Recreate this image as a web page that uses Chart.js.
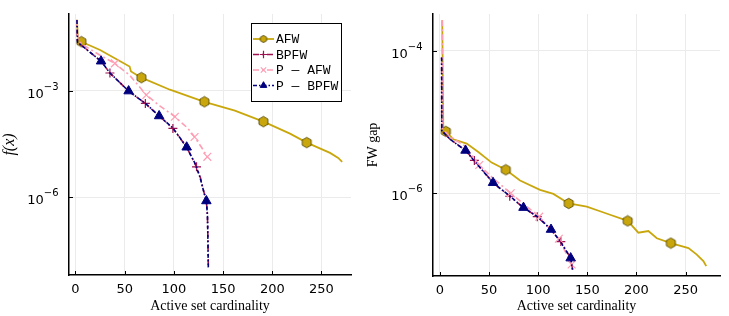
<!DOCTYPE html>
<html>
<head>
<meta charset="utf-8">
<script src="https://cdn.jsdelivr.net/npm/chart.js@4.4.1/dist/chart.umd.min.js"></script>
<style>
  body { margin: 0; background: #fff; width: 729px; height: 316px; overflow: hidden; position: relative; }
  canvas { position: absolute; top: 0; }
  #left { left: 0; }
  #right { left: 365px; }
</style>
</head>
<body>
<canvas id="left" width="365" height="316"></canvas>
<canvas id="right" width="364" height="316"></canvas>
<script>
// labels
const seriesNames = ['AFW', 'BPFW', 'P — AFW', 'P — BPFW'];
const xTicks = [0, 50, 100, 150, 200, 250];
const leftYTicks = [1e-6, 1e-3];
const rightYTicks = [1e-6, 1e-4];

// marker positions (active set cardinality where a symbol is drawn)
const afwMarks = [6, 67, 131, 191, 235];
const bpfwMarks = [35, 71, 99, 123];
const pafwMarks = [40, 72, 101, 121, 134];
const pbpfwMarks = [26, 54, 85, 113, 133];

// left panel: f(x)
const afwLeftX = [1.5, 2.5, 6, 25, 55, 56.4, 67, 96, 131, 162, 191, 218, 235, 258.7, 267, 271];
const afwLeftY = [1.0e-1, 2.75e-2, 2.4e-2, 1.41e-2, 4.8e-3, 3.5e-3, 2.34e-3, 1.07e-3, 4.9e-4, 2.75e-4, 1.35e-4, 6.2e-5, 3.47e-5, 1.78e-5, 1.29e-5, 1.0e-5];

const bpfwLeftX = [1.5, 2, 26, 35, 54, 71, 85, 99, 113, 123, 127, 130, 133, 134.1, 134.6, 135];
const bpfwLeftY = [9.8e-2, 2.34e-2, 6.8e-3, 3.16e-3, 9.8e-4, 4.4e-4, 1.95e-4, 8.7e-5, 2.57e-5, 7.2e-6, 3.5e-6, 1.58e-6, 7.9e-7, 3.16e-7, 6.2e-8, 1.02e-8];

const pafwLeftX = [1.5, 2.5, 6.6, 25, 40, 55, 72, 86, 101, 114, 121, 128.5, 134];
const pafwLeftY = [1.0e-1, 2.7e-2, 2.04e-2, 1.0e-2, 5.9e-3, 2.75e-3, 7.6e-4, 3.7e-4, 1.86e-4, 8.9e-5, 5.0e-5, 2.45e-5, 1.38e-5];

const pbpfwLeftX = [1.5, 2, 26, 35, 54, 71.6, 85, 99.1, 113, 121.4, 126.5, 130, 133, 134.1, 134.6, 135];
const pbpfwLeftY = [9.8e-2, 2.34e-2, 6.8e-3, 3.16e-3, 9.8e-4, 4.27e-4, 1.95e-4, 8.9e-5, 2.57e-5, 9.1e-6, 3.7e-6, 1.58e-6, 7.9e-7, 3.16e-7, 6.2e-8, 1.02e-8];

// right panel: FW gap
const afwRightX = [2.3, 3.4, 6, 13.5, 27.2, 39, 52.6, 67, 81.5, 101.8, 115.4, 131, 149.4, 162.9, 173.1, 191, 201.9, 212.1, 220.7, 235, 252.9, 261.4, 268.1, 271];
const afwRightY = [2.7e-4, 7.6e-6, 7.4e-6, 5.75e-6, 5.0e-6, 3.8e-6, 2.7e-6, 2.14e-6, 1.51e-6, 1.12e-6, 9.8e-7, 7.2e-7, 6.5e-7, 5.6e-7, 5.0e-7, 4.1e-7, 2.8e-7, 2.95e-7, 2.34e-7, 2.0e-7, 1.7e-7, 1.38e-7, 1.12e-7, 9.5e-8];

const bpfwRightX = [1.7, 1.8, 10.2, 26, 35, 54, 71, 85, 99, 113, 123, 133, 135];
const bpfwRightY = [8.1e-5, 7.6e-6, 5.75e-6, 4.0e-6, 2.9e-6, 1.41e-6, 9.1e-7, 6.3e-7, 4.7e-7, 3.1e-7, 2.1e-7, 1.23e-7, 8.5e-8];

const pafwRightX = [2.3, 2.5, 10.2, 25.5, 40, 51, 72, 101, 121, 134];
const pafwRightY = [2.7e-4, 8.1e-6, 6.3e-6, 4.6e-6, 2.5e-6, 1.78e-6, 1.0e-6, 4.7e-7, 2.3e-7, 1.0e-7];

const pbpfwRightX = [1.7, 1.8, 10.2, 26, 40.7, 54, 71.3, 85, 100.1, 113, 122.2, 133, 134.9];
const pbpfwRightY = [8.1e-5, 7.6e-6, 5.75e-6, 4.0e-6, 2.3e-6, 1.41e-6, 9.1e-7, 6.3e-7, 4.6e-7, 3.1e-7, 2.14e-7, 1.23e-7, 8.5e-8];

const colors = {
    afw: '#c9a70c',
    bpfw: '#9c1150',
    pafw: '#ff9db3',
    pbpfw: '#00007f'
};

// hexagon marker for AFW
function makeHexagon(r) {
    const size = Math.ceil(2 * r + 2);
    const c = document.createElement('canvas');
    c.width = size; c.height = size;
    const g = c.getContext('2d');
    g.beginPath();
    for (let i = 0; i < 6; i++) {
        const a = Math.PI / 6 + i * Math.PI / 3;
        const px = size / 2 + r * Math.cos(a), py = size / 2 + r * Math.sin(a);
        if (i === 0) g.moveTo(px, py); else g.lineTo(px, py);
    }
    g.closePath();
    g.fillStyle = '#c9a70c';
    g.fill();
    g.strokeStyle = '#4a3d00';
    g.lineWidth = 0.8;
    g.stroke();
    return c;
}
const hexagon = makeHexagon(5.2);
const hexagonSmall = makeHexagon(3.6);

function toPoints(xs, ys) {
    return xs.map((x, i) => ({ x, y: ys[i] }));
}

function markRadius(marks, r) {
    return ctx => (ctx.raw && marks.includes(ctx.raw.x)) ? r : 0;
}

function makeDatasets(a, b, c, d) {
    return [
        {
            label: seriesNames[0], data: a, order: 4,
            borderColor: colors.afw, borderWidth: 1.8,
            pointStyle: hexagon, pointRadius: markRadius(afwMarks, 5)
        },
        {
            label: seriesNames[1], data: b, order: 3,
            borderColor: colors.bpfw, borderWidth: 1.6,
            borderDash: [6, 3, 2, 3], borderDashOffset: 4,
            pointStyle: 'cross', pointRadius: markRadius(bpfwMarks, 4.5),
            pointBorderColor: colors.bpfw, pointBorderWidth: 1.2
        },
        {
            label: seriesNames[2], data: c, order: 2,
            borderColor: colors.pafw, borderWidth: 1.6,
            borderDash: [6, 3, 2, 3],
            pointStyle: 'crossRot', pointRadius: markRadius(pafwMarks, 5.5),
            pointBorderColor: colors.pafw, pointBorderWidth: 1.2
        },
        {
            label: seriesNames[3], data: d, order: 1,
            borderColor: colors.pbpfw, borderWidth: 1.6,
            borderDash: [4, 2, 1.5, 2],
            pointStyle: 'triangle', pointRadius: markRadius(pbpfwMarks, 5.5),
            pointBackgroundColor: colors.pbpfw, pointBorderColor: colors.pbpfw, pointBorderWidth: 1
        }
    ];
}

// small ticks pointing into the plot
const innerTicks = {
    id: 'innerTicks',
    beforeDatasetsDraw(chart) {
        const { ctx, chartArea, scales } = chart;
        ctx.save();
        ctx.strokeStyle = '#000';
        ctx.lineWidth = 1;
        scales.x.ticks.forEach(t => {
            const px = Math.round(scales.x.getPixelForValue(t.value)) + 0.5;
            ctx.beginPath();
            ctx.moveTo(px, chartArea.bottom);
            ctx.lineTo(px, chartArea.bottom - 4);
            ctx.stroke();
        });
        scales.y.ticks.forEach(t => {
            const py = Math.round(scales.y.getPixelForValue(t.value)) + 0.5;
            ctx.beginPath();
            ctx.moveTo(chartArea.left, py);
            ctx.lineTo(chartArea.left + 4, py);
            ctx.stroke();
        });
        ctx.restore();
    }
};

// power-of-ten labels with a real superscript
const powerLabels = {
    id: 'powerLabels',
    afterDraw(chart) {
        const { ctx, chartArea, scales } = chart;
        ctx.save();
        ctx.fillStyle = '#000';
        ctx.textBaseline = 'alphabetic';
        scales.y.ticks.forEach(t => {
            const py = scales.y.getPixelForValue(t.value);
            const exp = '−' + String(Math.abs(Math.round(Math.log10(t.value))));
            ctx.font = '10px "DejaVu Sans"';
            const ew = ctx.measureText(exp).width;
            const right = chartArea.left - 10.5;
            ctx.textAlign = 'right';
            ctx.fillText(exp, right, py - 1);
            ctx.font = '13px "DejaVu Sans"';
            ctx.fillText('10', right - ew, py + 7);
        });
        ctx.restore();
    }
};

// boxed legend with line + symbol samples
const boxLegend = {
    id: 'boxLegend',
    afterDraw(chart) {
        const ctx = chart.ctx;
        const bx = 251, by = 23, bw = 90, bh = 78;
        ctx.save();
        ctx.fillStyle = '#fff';
        ctx.fillRect(bx, by, bw, bh);
        ctx.strokeStyle = '#000';
        ctx.lineWidth = 1;
        ctx.strokeRect(bx + 0.5, by + 0.5, bw, bh);
        const rows = [39, 54.5, 70, 85.5];
        chart.data.datasets.forEach((ds, i) => {
            const y = rows[i];
            ctx.save();
            ctx.strokeStyle = ds.borderColor;
            ctx.lineWidth = ds.borderWidth;
            ctx.setLineDash(ds.borderDash || []);
            ctx.beginPath();
            ctx.moveTo(253, y);
            ctx.lineTo(274, y);
            ctx.stroke();
            ctx.restore();
            const opts = {
                pointStyle: i === 0 ? hexagonSmall : ds.pointStyle,
                radius: 3.8,
                rotation: 0,
                borderWidth: ds.pointBorderWidth || 1
            };
            ctx.save();
            ctx.fillStyle = ds.pointBackgroundColor || ds.borderColor;
            ctx.strokeStyle = ds.pointBorderColor || ds.borderColor;
            ctx.lineWidth = opts.borderWidth;
            Chart.helpers.drawPoint(ctx, opts, 263.5, y);
            ctx.restore();
            ctx.fillStyle = '#000';
            ctx.font = '13px "Liberation Mono"';
            ctx.textBaseline = 'middle';
            ctx.fillText(ds.label, 276, y + 1);
        });
        ctx.restore();
    }
};

function makeOptions(cfg) {
    return {
        responsive: false,
        animation: false,
        layout: { padding: { left: 0, right: cfg.padRight, top: 14, bottom: 0 } },
        elements: { line: { tension: 0, fill: false } },
        plugins: { legend: { display: false }, tooltip: { enabled: false } },
        scales: {
            x: {
                type: 'linear',
                min: cfg.xMin, max: cfg.xMax,
                afterBuildTicks: s => { s.ticks = xTicks.map(v => ({ value: v })); },
                afterFit: s => { s.height = cfg.xHeight; },
                grid: { color: '#ebebeb', lineWidth: 1, drawTicks: false },
                border: { display: true, color: '#000', width: 1.5 },
                ticks: { color: '#000', padding: 7, font: { family: 'DejaVu Sans', size: 13 } },
                title: {
                    display: true, text: 'Active set cardinality', color: '#000',
                    font: { family: 'Liberation Serif', size: 14 }, padding: { top: 0, bottom: 1 }
                }
            },
            y: {
                type: 'logarithmic',
                min: cfg.yMin, max: cfg.yMax,
                afterBuildTicks: s => { s.ticks = cfg.yTicks.map(v => ({ value: v })); },
                afterFit: s => { s.width = cfg.yWidth; },
                grid: { color: '#ebebeb', lineWidth: 1, drawTicks: false },
                border: { display: true, color: '#000', width: 1.5 },
                ticks: { display: false },
                title: {
                    display: true, text: cfg.yTitle, color: '#000',
                    font: cfg.yTitleFont, padding: { top: 0, bottom: 4 }
                }
            }
        }
    };
}

new Chart(document.getElementById('left').getContext('2d'), {
    type: 'line',
    data: {
        datasets: makeDatasets(
            toPoints(afwLeftX, afwLeftY),
            toPoints(bpfwLeftX, bpfwLeftY),
            toPoints(pafwLeftX, pafwLeftY),
            toPoints(pbpfwLeftX, pbpfwLeftY)
        )
    },
    options: makeOptions({
        padRight: 14, xMin: -6.6, xMax: 280, xHeight: 41, yWidth: 69,
        yMin: 6.5e-9, yMax: 0.145, yTicks: leftYTicks,
        yTitle: 'f(x)', yTitleFont: { family: 'Liberation Serif', size: 16, style: 'italic' }
    }),
    plugins: [innerTicks, powerLabels, boxLegend]
});

new Chart(document.getElementById('right').getContext('2d'), {
    type: 'line',
    data: {
        datasets: makeDatasets(
            toPoints(afwRightX, afwRightY),
            toPoints(bpfwRightX, bpfwRightY),
            toPoints(pafwRightX, pafwRightY),
            toPoints(pbpfwRightX, pbpfwRightY)
        )
    },
    options: makeOptions({
        padRight: 9, xMin: -7.1, xMax: 285, xHeight: 40, yWidth: 68,
        yMin: 6.9e-8, yMax: 3.3e-4, yTicks: rightYTicks,
        yTitle: 'FW gap', yTitleFont: { family: 'Liberation Serif', size: 14 }
    }),
    plugins: [innerTicks, powerLabels]
});
</script>
</body>
</html>
